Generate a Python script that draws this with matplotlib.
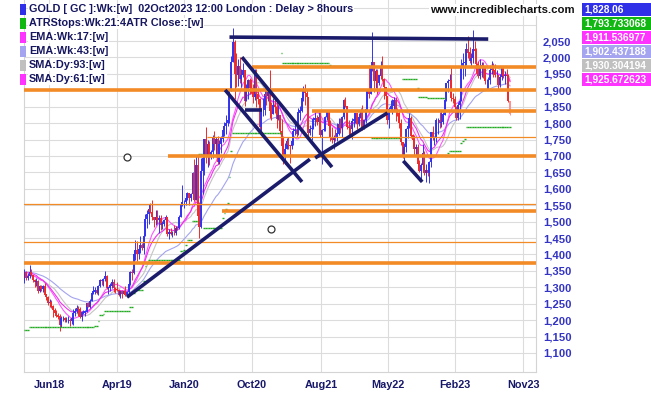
import numpy as np
import pandas as pd
import matplotlib
matplotlib.use('Agg')
import matplotlib.pyplot as plt
import matplotlib.dates as mdates
from matplotlib.patches import Rectangle

plt.rcParams['font.family'] = ['Liberation Sans', 'DejaVu Sans']

# Weekly GOLD [GC] bars, first week 19 Mar 2018, last week 02 Oct 2023
first_week = '2018-03-19'
first_open = 1318

close_2018 = [1347, 1327, 1335, 1347, 1338, 1323, 1315, 1320, 1289, 1303, 1294, 1302, 1278, 1270, 1253,
              1255, 1241, 1231, 1223, 1214, 1211, 1184, 1206, 1206, 1199, 1201, 1201, 1196,
              1205, 1222, 1228, 1236, 1234, 1210, 1223, 1223, 1226, 1252, 1241, 1258, 1281, 1287]
high_2018 = [1356, 1349, 1345, 1369, 1356, 1338, 1326, 1328, 1322, 1308, 1307, 1306, 1313, 1281, 1272,
             1264, 1260, 1246, 1236, 1230, 1222, 1218, 1214, 1213, 1208, 1211, 1212, 1207,
             1210, 1233, 1236, 1246, 1244, 1240, 1227, 1232, 1230, 1253, 1254, 1265, 1284, 1303]
low_2018 = [1312, 1322, 1322, 1327, 1333, 1315, 1302, 1305, 1282, 1286, 1288, 1287, 1275, 1262, 1246,
            1240, 1238, 1211, 1220, 1211, 1204, 1167, 1178, 1197, 1194, 1194, 1192, 1183,
            1189, 1185, 1214, 1222, 1212, 1205, 1197, 1218, 1212, 1226, 1240, 1238, 1257, 1280]

close_2019 = [1292, 1284, 1304, 1322, 1318, 1325, 1333, 1299, 1299, 1305, 1315, 1298,
              1295, 1291, 1276, 1288, 1281, 1287, 1277, 1285, 1311, 1346, 1345, 1400, 1413,
              1400, 1415, 1427, 1419, 1457, 1509, 1523, 1537, 1529, 1515, 1506, 1515, 1506, 1512,
              1489, 1494, 1505, 1515, 1462, 1468, 1463, 1466, 1465, 1481, 1480, 1515, 1552]
high_2019 = [1300, 1297, 1307, 1326, 1324, 1327, 1349, 1336, 1302, 1313, 1326, 1324,
             1300, 1316, 1296, 1290, 1291, 1292, 1304, 1290, 1314, 1349, 1357, 1412, 1443,
             1441, 1428, 1456, 1436, 1465, 1524, 1535, 1555, 1558, 1566, 1512, 1535, 1535, 1521,
             1519, 1501, 1509, 1519, 1515, 1477, 1482, 1472, 1490, 1488, 1487, 1520, 1556]
low_2019 = [1280, 1280, 1276, 1302, 1306, 1303, 1320, 1294, 1281, 1290, 1298, 1286,
            1284, 1290, 1272, 1266, 1267, 1279, 1274, 1273, 1279, 1306, 1323, 1339, 1384,
            1381, 1386, 1404, 1414, 1400, 1458, 1480, 1492, 1525, 1506, 1485, 1491, 1494, 1466,
            1476, 1478, 1486, 1488, 1456, 1448, 1458, 1452, 1458, 1459, 1475, 1478, 1515]

close_2020 = [1560, 1560, 1572, 1587, 1573, 1584, 1648, 1566, 1672, 1516, 1484, 1654, 1693,
              1752, 1698, 1735, 1700, 1713, 1756, 1735, 1751, 1683, 1737, 1753, 1780, 1790,
              1801, 1810, 1897, 1985, 2046, 1949, 1947, 1975, 1934, 1947, 1962, 1866, 1900,
              1930, 1906, 1905, 1879, 1952, 1888, 1872, 1788, 1840, 1840, 1889, 1883, 1895]
high_2020 = [1613, 1565, 1578, 1591, 1588, 1587, 1652, 1691, 1704, 1703, 1560, 1695, 1702,
             1753, 1788, 1748, 1747, 1717, 1765, 1775, 1758, 1760, 1748, 1760, 1791, 1802,
             1825, 1821, 1904, 2005, 2090, 2054, 2015, 1995, 2001, 1966, 1984, 1960, 1918,
             1934, 1937, 1935, 1918, 1965, 1966, 1898, 1876, 1847, 1878, 1900, 1909, 1902]
low_2020 = [1548, 1540, 1550, 1565, 1550, 1564, 1583, 1563, 1568, 1506, 1451, 1482, 1584,
            1641, 1680, 1666, 1672, 1691, 1693, 1718, 1698, 1674, 1675, 1709, 1743, 1762,
            1768, 1792, 1801, 1902, 1988, 1874, 1911, 1912, 1922, 1911, 1939, 1851, 1870,
            1873, 1890, 1892, 1860, 1870, 1850, 1858, 1774, 1765, 1823, 1825, 1856, 1866]

close_2021 = [1836, 1829, 1856, 1850, 1814, 1824, 1777, 1729, 1698, 1720, 1744, 1733, 1729,
              1744, 1777, 1778, 1768, 1832, 1838, 1877, 1903, 1891, 1879, 1769, 1781, 1784,
              1811, 1815, 1802, 1817, 1763, 1780, 1781, 1819, 1833, 1792, 1754, 1750, 1758,
              1757, 1768, 1796, 1784, 1818, 1869, 1852, 1788, 1784, 1783, 1805, 1811, 1829]
high_2021 = [1962, 1865, 1875, 1876, 1875, 1855, 1825, 1814, 1760, 1740, 1756, 1757, 1734,
             1759, 1786, 1798, 1790, 1845, 1851, 1891, 1913, 1920, 1904, 1878, 1795, 1795,
             1818, 1834, 1825, 1833, 1835, 1781, 1797, 1823, 1837, 1834, 1809, 1788, 1765,
             1782, 1801, 1815, 1815, 1823, 1872, 1879, 1853, 1809, 1793, 1816, 1822, 1831]
low_2021 = [1817, 1809, 1833, 1832, 1785, 1808, 1768, 1717, 1677, 1677, 1720, 1720, 1678,
            1722, 1732, 1765, 1758, 1765, 1808, 1833, 1867, 1856, 1866, 1762, 1763, 1750,
            1782, 1791, 1794, 1790, 1758, 1677, 1775, 1777, 1808, 1787, 1745, 1738, 1721,
            1746, 1745, 1765, 1771, 1758, 1814, 1848, 1781, 1762, 1765, 1753, 1787, 1800]

close_2022 = [1797, 1817, 1835, 1786, 1808, 1842, 1899, 1889, 1968, 1985, 1929, 1958, 1923,
              1945, 1974, 1934, 1911, 1882, 1808, 1842, 1851, 1851, 1871, 1840, 1830, 1801,
              1742, 1703, 1727, 1781, 1791, 1816, 1762, 1749, 1722, 1728, 1677, 1655, 1672,
              1709, 1648, 1656, 1648, 1681, 1771, 1754, 1754, 1809, 1810, 1800, 1804, 1826]
high_2022 = [1830, 1831, 1847, 1855, 1812, 1845, 1905, 1976, 1974, 2078, 1985, 1966, 1966,
             1948, 1988, 2003, 1937, 1910, 1883, 1849, 1870, 1874, 1880, 1880, 1847, 1840,
             1814, 1744, 1740, 1784, 1806, 1832, 1823, 1766, 1763, 1737, 1735, 1688, 1680,
             1735, 1714, 1675, 1678, 1685, 1774, 1791, 1762, 1815, 1815, 1835, 1836, 1833]
low_2022 = [1783, 1791, 1809, 1780, 1781, 1801, 1841, 1878, 1897, 1960, 1895, 1906, 1890,
            1916, 1935, 1928, 1872, 1851, 1798, 1786, 1837, 1829, 1836, 1805, 1822, 1785,
            1732, 1695, 1680, 1711, 1754, 1785, 1755, 1728, 1700, 1699, 1663, 1650, 1627,
            1658, 1643, 1621, 1640, 1618, 1667, 1749, 1733, 1741, 1768, 1785, 1788, 1797]

close_2023 = [1870, 1921, 1928, 1930, 1876, 1874, 1850, 1817, 1856, 1868, 1973, 1983, 1986,
              2025, 2015, 1990, 1999, 2025, 2019, 1981, 1944, 1969, 1977, 1971, 1929, 1929,
              1932, 1961, 1965, 1960, 1946, 1946, 1917, 1940, 1966, 1943, 1946, 1945, 1866, 1828]
high_2023 = [1871, 1923, 1933, 1949, 1975, 1892, 1884, 1852, 1865, 1871, 1994, 2015, 1991,
             2044, 2064, 2031, 2015, 2085, 2049, 2028, 1988, 1995, 1985, 1985, 1963, 1934,
             1939, 1974, 1990, 1982, 1980, 1961, 1947, 1951, 1974, 1968, 1958, 1964, 1950, 1852]
low_2023 = [1826, 1867, 1896, 1913, 1866, 1860, 1830, 1810, 1809, 1813, 1868, 1934, 1943,
            1976, 1997, 1982, 1975, 1982, 2007, 1952, 1938, 1935, 1939, 1938, 1920, 1900,
            1902, 1920, 1950, 1942, 1939, 1927, 1904, 1911, 1932, 1936, 1918, 1919, 1864, 1826]

closes = close_2018 + close_2019 + close_2020 + close_2021 + close_2022 + close_2023
highs = high_2018 + high_2019 + high_2020 + high_2021 + high_2022 + high_2023
lows = low_2018 + low_2019 + low_2020 + low_2021 + low_2022 + low_2023

# support / resistance lines: price, start date, thick
orange_levels = [1972, 1900, 1837, 1758, 1700, 1554, 1532, 1438, 1374]
orange_starts = ['2020-10-22', '2018-01-01', '2021-06-29', '2020-04-18', '2019-11-07',
                 '2018-01-01', '2020-06-19', '2018-01-01', '2018-01-01']
orange_thick = [True, True, True, False, True, False, True, False, True]

# drawn trend lines (date, price) -> (date, price)
trend_lines = [
    (('2020-07-20', 2062), ('2023-07-03', 2056)),
    (('2020-07-02', 1901), ('2021-05-18', 1621)),
    (('2020-09-10', 2001), ('2021-09-20', 1666)),
    (('2019-05-20', 1270), ('2021-06-20', 1690)),
    (('2021-07-12', 1694), ('2022-05-09', 1831)),
    (('2020-09-23', 1840), ('2020-12-03', 1840)),
    (('2022-07-14', 1685), ('2022-10-01', 1621)),
]
circle_marks = [('2019-05-20', 1697), ('2021-01-10', 1477)]

tick_dates = ['2018-06-29', '2019-04-09', '2020-01-13', '2020-10-22',
              '2021-08-06', '2022-05-12', '2023-02-15', '2023-11-25']
tick_labels = ['Jun18', 'Apr19', 'Jan20', 'Oct20', 'Aug21', 'May22', 'Feb23', 'Nov23']

legend_names = ['GOLD [ GC ]:Wk:[w]  02Oct2023 12:00 London : Delay > 8hours',
                'ATRStops:Wk:21:4ATR Close::[w]', 'EMA:Wk:17:[w]', 'EMA:Wk:43:[w]',
                'SMA:Dy:93:[w]', 'SMA:Dy:61:[w]']
legend_values = ['1,828.06', '1,793.733068', '1,911.536977', '1,902.437188',
                 '1,930.304194', '1,925.672623']
legend_colors = ['#3030e8', '#12b812', '#ff33ff', '#a4a4f0', '#c0c0c0', '#ff33ff']

# ---- derived series
n = len(closes)
dates = pd.date_range(first_week, periods=n, freq='7D')
dn = mdates.date2num(dates)
c = np.array(closes, float)
o = np.concatenate([[first_open], c[:-1]])
h = np.maximum(np.array(highs, float), np.maximum(o, c))
l = np.minimum(np.array(lows, float), np.minimum(o, c))

s = pd.Series(c)
ema17 = s.ewm(span=17, adjust=False).mean()
ema43 = s.ewm(span=43, adjust=False).mean()
sma93 = s.rolling(19, min_periods=1).mean()
sma61 = s.rolling(12, min_periods=1).mean()

# ATR trailing stop, 21 weeks, 4 x ATR
prev_c = o
tr = np.maximum(h - l, np.maximum(abs(h - prev_c), abs(l - prev_c)))
atr = pd.Series(tr).ewm(alpha=1 / 21, adjust=False).mean().values
stops = []
up = True
stop = c[0] - 4 * atr[0]
for i in range(n):
    if up:
        stop = max(stop, c[i] - 4 * atr[i])
        if c[i] < stop:
            up = False
            stop = c[i] + 4 * atr[i]
    else:
        stop = min(stop, c[i] + 4 * atr[i])
        if c[i] > stop:
            up = True
            stop = c[i] - 4 * atr[i]
    stops.append(stop)

# ---- figure
fig = plt.figure(figsize=(6.51, 3.95), dpi=100)
ax = fig.add_axes([24 / 651, 23 / 395, 512 / 651, 372 / 395])

last = mdates.date2num(pd.Timestamp('2023-10-02'))
ax.set_xlim(last - 2025, last + 108)
ax.set_ylim(1042, 2175)

yt = list(range(1100, 2151, 50))
ax.set_yticks(yt)
ax.set_yticklabels([f'{v:,}' if v <= 2050 else '' for v in yt])
ax.yaxis.tick_right()
ax.set_xticks(mdates.date2num(pd.to_datetime(tick_dates)))
ax.set_xticklabels(tick_labels)
ax.tick_params(axis='y', length=0, pad=5, labelsize=8.1, labelcolor='#3434c4')
ax.tick_params(axis='x', length=0, pad=6, labelsize=7.8, labelcolor='#18186a')
for lab in ax.get_xticklabels() + ax.get_yticklabels():
    lab.set_fontweight('bold')
ax.grid(color='#dcdcdc', lw=0.8)
ax.set_axisbelow(True)
for sp in ['left', 'right', 'bottom']:
    ax.spines[sp].set_color('#d4d4d4')
ax.spines['top'].set_visible(False)

# moving averages
ax.plot(dn, sma93, color='#c4c4c4', lw=0.8, zorder=2)
ax.plot(dn, ema43, color='#a4a4f0', lw=0.8, zorder=2)
ax.plot(dn, sma61, color='#ff55ff', lw=0.8, zorder=2)
ax.plot(dn, ema17, color='#ee33ee', lw=0.8, zorder=2)

# candles
cols = np.where(c >= o, '#3333ee', '#ee2a2a').astype(object)
cols[-1] = '#ff9090'
ax.vlines(dn, l, h, colors=cols, lw=0.7, zorder=3)
ax.vlines(dn, np.minimum(o, c), np.maximum(o, c) + 0.5, colors=cols, lw=1.4, zorder=3)

# ATR stops
ax.hlines(stops, dn - 3.6, dn + 3.6, colors='#22aa22', lw=1.0, zorder=3)

# orange support / resistance
right = ax.get_xlim()[1]
for p, st, thick in zip(orange_levels, orange_starts, orange_thick):
    ax.hlines(p, mdates.date2num(pd.Timestamp(st)), right, color='#f28a26',
              lw=2.6 if thick else 0.9, zorder=4)

# trend lines
for (d0, p0), (d1, p1) in trend_lines:
    ax.plot(mdates.date2num(pd.to_datetime([d0, d1])), [p0, p1], color='#1b1b6b',
            lw=2.6, solid_capstyle='butt', zorder=5)
for d, p in circle_marks:
    ax.plot(mdates.date2num(pd.Timestamp(d)), p, 'o', mfc='white', mec='#333333',
            ms=5, mew=0.9, zorder=5)

# ---- overlay for legend and value boxes (pixel coords)
ov = fig.add_axes([0, 0, 1, 1], zorder=10)
ov.set_xlim(0, 651)
ov.set_ylim(395, 0)
ov.axis('off')
ov.patch.set_alpha(0)
for k, (name, val, col) in enumerate(zip(legend_names, legend_values, legend_colors)):
    yc = 9.5 + 14 * k
    ov.add_patch(Rectangle((19.5, yc - 5.5), 6, 11, fc=col, ec='none'))
    ov.text(29, yc, name, fontsize=7.8, fontweight='bold', color='#161660', va='center',
            bbox=dict(fc='white', ec='none', pad=0.6))
    ov.add_patch(Rectangle((582, yc - 7), 69, 13, fc=col, ec='none'))
    ov.text(584, yc, val, fontsize=7.3, fontweight='bold', color='white', va='center')
ov.text(430, 10, 'www.incrediblecharts.com', fontsize=8.2, fontweight='bold', color='#111111',
        va='center', bbox=dict(fc='white', ec='none', pad=0.6))

fig.savefig('out.png', dpi=100)
